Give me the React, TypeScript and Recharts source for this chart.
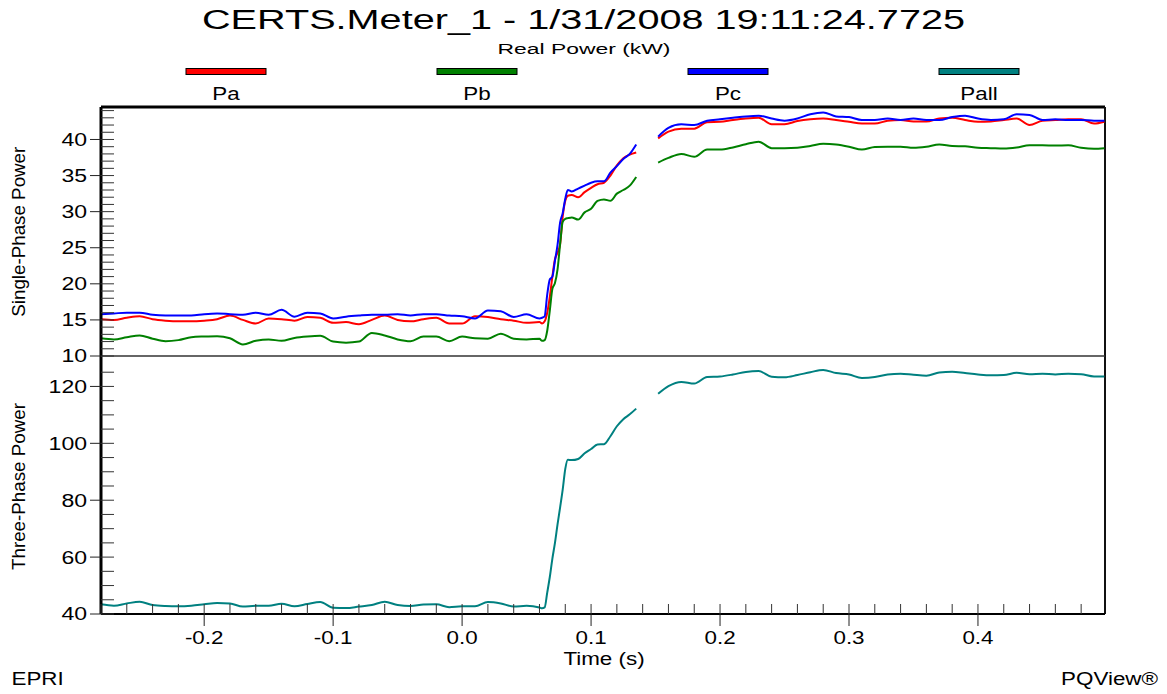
import React from 'react';
import { LineChart, Line, XAxis, YAxis, ReferenceLine } from 'recharts';

const W = 1167;
const H = 694;
const FONT = '"Liberation Sans", Arial, Helvetica, sans-serif';
const SX = 1.28; // the source picture is stretched horizontally

// time axis (s); 0.144 is the gap in the record
const time = [
  -0.28, -0.27, -0.26, -0.25, -0.24, -0.23, -0.22, -0.21, -0.2, -0.19,
  -0.18, -0.17, -0.16, -0.15, -0.14, -0.13, -0.12, -0.11, -0.1, -0.09,
  -0.08, -0.07, -0.06, -0.05, -0.04, -0.03, -0.02, -0.01, 0, 0.01,
  0.02, 0.03, 0.04, 0.05, 0.06,
  0.062, 0.064, 0.066, 0.068, 0.07, 0.072, 0.074, 0.076, 0.078, 0.08,
  0.082, 0.085, 0.09, 0.095, 0.1, 0.105, 0.11, 0.115, 0.12, 0.125, 0.13, 0.135,
  0.144,
  0.152, 0.16, 0.17, 0.18, 0.19, 0.2, 0.21, 0.22, 0.23, 0.24,
  0.25, 0.26, 0.27, 0.28, 0.29, 0.3, 0.31, 0.32, 0.33, 0.34,
  0.35, 0.36, 0.37, 0.38, 0.39, 0.4, 0.41, 0.42, 0.43, 0.44,
  0.45, 0.46, 0.47, 0.48, 0.49, 0.498,
];

const pa = [
  15.1, 15.0, 15.3, 15.5, 15.1, 14.9, 14.8, 14.8, 14.9, 15.1,
  15.6, 15.0, 14.5, 15.2, 15.1, 14.9, 15.4, 15.3, 14.6, 14.7,
  14.4, 15.0, 15.6, 15.0, 14.8, 15.1, 15.3, 14.5, 14.5, 15.5,
  15.4, 15.1, 14.9, 14.6, 14.7,
  14.5, 14.8, 16.0, 18.2, 21.0, 23.4, 24.3, 25.5, 29.3, 31.5,
  32.2, 32.3, 32.0, 32.7, 33.3, 33.8, 34.0, 35.0, 36.4, 37.4, 37.9, 38.2,
  null,
  40.15, 41.1, 41.5, 41.5, 42.4, 42.45, 42.7, 42.9, 43.0, 42.1,
  42.1, 42.55, 42.8, 42.9, 42.7, 42.45, 42.2, 42.2, 42.6, 42.7,
  42.5, 42.5, 42.9, 43.0, 42.7, 42.45, 42.5, 42.7, 42.9, 42.0,
  42.6, 42.7, 42.8, 42.8, 42.2, 42.45,
];

const pb = [
  12.45, 12.3, 12.6, 12.85, 12.4, 12.05, 12.2, 12.6, 12.7, 12.75,
  12.45, 11.6, 12.1, 12.3, 12.1, 12.5, 12.7, 12.8, 12.0, 11.85,
  12.0, 13.2, 12.85, 12.3, 12.05, 12.7, 12.7, 12.05, 12.7, 12.45,
  12.4, 13.1, 12.4, 12.3, 12.4,
  12.1, 12.2, 13.5, 16.3, 19.3, 20.1, 22.0, 25.5, 28.6, 29.0,
  29.1, 29.2, 28.9, 29.9, 30.4, 31.5, 31.7, 31.5, 32.5, 33.0, 33.6, 34.8,
  null,
  36.8, 37.45, 38.0, 37.6, 38.6, 38.6, 38.9, 39.35, 39.7, 38.8,
  38.8, 38.85, 39.1, 39.4, 39.3, 39.0, 38.6, 38.95, 39.0, 39.0,
  38.85, 39.0, 39.3, 39.1, 39.05, 38.85, 38.8, 38.75, 38.9, 39.2,
  39.2, 39.15, 39.2, 38.85, 38.7, 38.8,
];

const pc = [
  15.8, 15.9, 16.0, 16.0, 15.7, 15.6, 15.6, 15.6, 15.8, 15.9,
  15.8, 15.7, 16.0, 15.7, 16.4, 15.45, 16.0, 15.9, 15.2, 15.45,
  15.6, 15.7, 15.7, 15.8, 15.6, 15.8, 15.8, 15.6, 15.5, 15.2,
  16.3, 16.2, 15.4, 15.8, 15.2,
  15.3, 15.5, 18.5, 20.6, 21.0, 23.2, 25.4, 28.5, 29.8, 31.8,
  33.0, 32.8, 33.2, 33.6, 34.0, 34.2, 34.2, 35.4, 36.3, 37.3, 38.0, 39.3,
  null,
  40.4, 41.6, 42.1, 42.0, 42.6, 42.8, 43.0, 43.2, 43.3, 42.9,
  42.6, 42.9, 43.5, 43.75, 43.2, 43.1, 42.7, 42.7, 42.9, 42.7,
  42.9, 42.7, 42.7, 43.1, 43.3, 42.9, 42.7, 42.8, 43.5, 43.4,
  42.7, 42.8, 42.7, 42.7, 42.6, 42.6,
];

const pall = [
  43.4, 42.9, 43.7, 44.3, 43.15, 42.8, 42.7, 42.9, 43.4, 43.9,
  43.7, 42.6, 42.9, 42.9, 43.6, 42.7, 43.5, 44.2, 42.2, 42.1,
  42.6, 43.15, 44.3, 43.15, 42.8, 43.3, 43.4, 42.4, 42.7, 42.7,
  44.2, 43.7, 42.6, 42.9, 42.3,
  42.0, 42.3, 47.5, 53.0, 59.5, 65.0, 71.5, 77.5, 83.7, 91.0,
  94.2, 94.1, 94.5, 96.5, 98.0, 99.6, 99.7, 102.5, 106.0, 108.5, 110.2, 112.2,
  null,
  117.4, 120.1, 121.6, 121.0, 123.3, 123.5, 124.2, 125.1, 125.4, 123.4,
  123.2, 124.0, 125.0, 125.8, 124.7, 124.2, 123.0, 123.3, 124.2, 124.5,
  124.1, 123.8, 124.9, 125.2, 124.7, 124.2, 123.9, 124.0, 124.8, 124.3,
  124.5, 124.2, 124.5, 124.3, 123.5, 123.5,
];

const series = [
  { key: 'pa', name: 'Pa', color: '#ff0000' },
  { key: 'pb', name: 'Pb', color: '#008000' },
  { key: 'pc', name: 'Pc', color: '#0000ff' },
  { key: 'pall', name: 'Pall', color: '#008080' },
];

const data = time.map((t, i) => ({ t, pa: pa[i], pb: pb[i], pc: pc[i], pall: pall[i] }));

const X_DOMAIN: [number, number] = [-0.28, 0.4985];
const xTicks = Array.from({ length: 39 }, (_, i) => Math.round((-0.28 + i * 0.02) * 100) / 100);
const singleTicks = Array.from({ length: 35 }, (_, i) => 10 + i);
const threeTicks = Array.from({ length: 18 }, (_, i) => 40 + i * 5);

const MARGIN = { right: 62, left: 41 };
const Y_OUT = 11;
const Y_GAP = 3;
const X_OUT = 12;
const X_GAP = 4;

const makeYTick = (step: number) => (props: any) => {
  const { x, y, payload } = props;
  const ax = x + Y_OUT + Y_GAP;
  const v = payload.value;
  const major = v % step === 0;
  return (
    <g>
      <line x1={ax} x2={ax + 13} y1={y} y2={y} stroke="#333" strokeWidth={1} />
      {major && <line x1={ax - Y_OUT} x2={ax} y1={y} y2={y} stroke="#222" strokeWidth={1} />}
      {major && (
        <text
          transform={`translate(${ax - 14},${y}) scale(${SX},1)`}
          textAnchor="end"
          dy="0.36em"
          fontSize={18}
          fontFamily={FONT}
          fill="#000"
        >
          {v}
        </text>
      )}
    </g>
  );
};

const TimeTick = (props: any) => {
  const { x, y, payload } = props;
  const ay = y - X_OUT - X_GAP;
  const v = payload.value;
  const major = Math.abs(v * 10 - Math.round(v * 10)) < 1e-6;
  return (
    <g>
      <line x1={x} x2={x} y1={ay} y2={ay - 10} stroke="#333" strokeWidth={1} />
      {major && <line x1={x} x2={x} y1={ay} y2={ay + X_OUT} stroke="#222" strokeWidth={1} />}
      {major && (
        <text
          transform={`translate(${x},${ay + 30}) scale(${SX},1)`}
          textAnchor="middle"
          fontSize={17.5}
          fontFamily={FONT}
          fill="#000"
        >
          {v.toFixed(1)}
        </text>
      )}
    </g>
  );
};

const Txt = ({ x, y, children, anchor = 'middle', size = 17.5, sx = SX }: any) => (
  <text
    transform={`translate(${x},${y}) scale(${sx},1)`}
    textAnchor={anchor}
    fontSize={size}
    fontFamily={FONT}
    fill="#000"
  >
    {children}
  </text>
);

const App = () => {
  return (
    <div style={{ position: 'absolute', left: 0, top: 0, width: W, height: H, background: '#fff' }}>
      <div style={{ position: 'absolute', left: 0, top: 0 }}>
        <LineChart width={W} height={H} data={data} margin={{ ...MARGIN, top: 356, bottom: 40 }}>
          <XAxis
            dataKey="t"
            type="number"
            domain={X_DOMAIN}
            allowDataOverflow
            ticks={xTicks}
            interval={0}
            height={40}
            tickSize={X_OUT}
            tickMargin={X_GAP}
            tickLine={false}
            axisLine={{ stroke: '#000', strokeWidth: 2 }}
            tick={TimeTick}
          />
          <YAxis
            width={60}
            domain={[40, 130.7]}
            allowDataOverflow
            ticks={threeTicks}
            interval={0}
            tickSize={Y_OUT}
            tickMargin={Y_GAP}
            tickLine={false}
            axisLine={{ stroke: '#000', strokeWidth: 3 }}
            tick={makeYTick(20)}
          />
          <ReferenceLine x={0.4985} stroke="#111" strokeWidth={2} />
          <Line
            dataKey="pall"
            name="Pall"
            stroke="#008080"
            strokeWidth={2}
            type="monotone"
            dot={false}
            activeDot={false}
            isAnimationActive={false}
          />
        </LineChart>
      </div>
      <div style={{ position: 'absolute', left: 0, top: 0 }}>
        <LineChart width={W} height={380} data={data} margin={{ ...MARGIN, top: 107, bottom: 24 }}>
          <XAxis dataKey="t" type="number" domain={X_DOMAIN} allowDataOverflow hide />
          <YAxis
            width={60}
            domain={[10, 44.5]}
            allowDataOverflow
            ticks={singleTicks}
            interval={0}
            tickSize={Y_OUT}
            tickMargin={Y_GAP}
            tickLine={false}
            axisLine={{ stroke: '#000', strokeWidth: 3 }}
            tick={makeYTick(5)}
          />
          <ReferenceLine y={44.5} stroke="#000" strokeWidth={3} />
          <ReferenceLine x={0.4985} stroke="#111" strokeWidth={2} />
          <ReferenceLine y={10} stroke="#333" strokeWidth={1.5} />
          {series.slice(0, 3).map((s) => (
            <Line
              key={s.key}
              dataKey={s.key}
              name={s.name}
              stroke={s.color}
              strokeWidth={2}
              type="monotone"
              dot={false}
              activeDot={false}
              isAnimationActive={false}
            />
          ))}
        </LineChart>
      </div>
      <svg width={W} height={H} style={{ position: 'absolute', left: 0, top: 0, pointerEvents: 'none' }}>
        <text x={583.5} y={28.5} textAnchor="middle" fontSize={27} fontFamily={FONT} textLength={763} lengthAdjust="spacingAndGlyphs">
          CERTS.Meter_1 - 1/31/2008 19:11:24.7725
        </text>
        <text x={584} y={53.5} textAnchor="middle" fontSize={15.5} fontFamily={FONT} textLength={173} lengthAdjust="spacingAndGlyphs">
          Real Power (kW)
        </text>
        {series.map((s, i) => {
          const cx = 226 + i * 251;
          return (
            <g key={s.key}>
              <rect x={cx - 40} y={68.5} width={80} height={6} fill={s.color} stroke="#000" strokeWidth={1} />
              <Txt x={cx} y={100}>{s.name}</Txt>
            </g>
          );
        })}
        <text
          transform="translate(25,231.7) rotate(-90)"
          textAnchor="middle"
          fontSize={19}
          fontFamily={FONT}
          textLength={170}
          lengthAdjust="spacingAndGlyphs"
        >
          Single-Phase Power
        </text>
        <text
          transform="translate(25,486.5) rotate(-90)"
          textAnchor="middle"
          fontSize={19}
          fontFamily={FONT}
          textLength={167}
          lengthAdjust="spacingAndGlyphs"
        >
          Three-Phase Power
        </text>
        <Txt x={604} y={665}>Time (s)</Txt>
        <Txt x={11.5} y={685} anchor="start">EPRI</Txt>
        <Txt x={1158} y={685} anchor="end">PQView®</Txt>
      </svg>
    </div>
  );
};

export default App;
